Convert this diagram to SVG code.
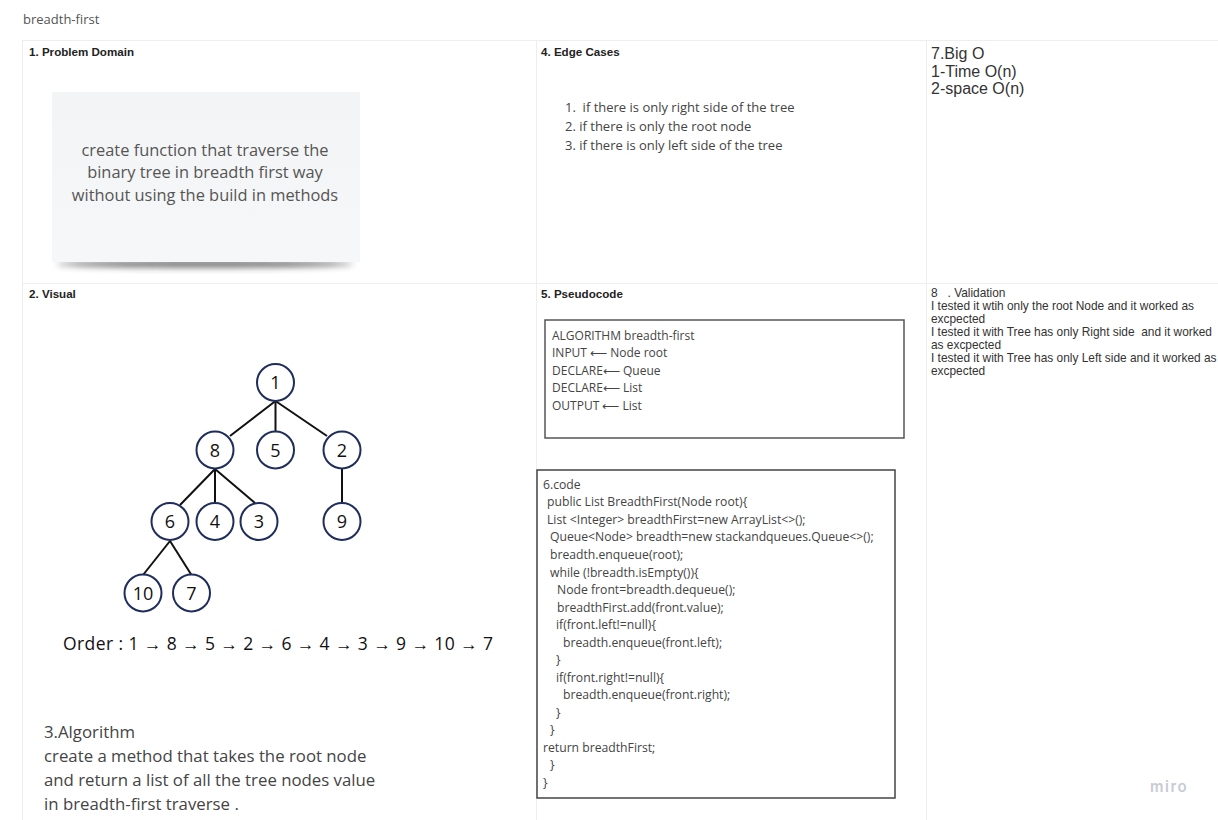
<svg xmlns="http://www.w3.org/2000/svg" width="1218" height="820" viewBox="0 0 1218 820">
<style>
.hdr{font-family:"Liberation Sans",Arial,sans-serif;font-size:11.6px;font-weight:bold;fill:#222}
.os{font-family:"Open Sans","Noto Sans",sans-serif}
.grid{stroke:#eeeeee;stroke-width:1;fill:none}
.node circle{fill:#fff;stroke:#1f2d5c;stroke-width:2}
.node text{font-family:"Open Sans","Noto Sans",sans-serif;font-size:18px;fill:#111;text-anchor:middle}
.edge{stroke:#111;stroke-width:2}
.code{font-family:"Open Sans","Noto Sans",sans-serif;font-size:12.2px;fill:#444}
.val{font-family:"Liberation Sans",Arial,sans-serif;font-size:11.9px;fill:#333}
</style>
<defs>
<filter id="blur" x="-20%" y="-200%" width="140%" height="500%"><feGaussianBlur stdDeviation="3"/></filter>
<linearGradient id="note" x1="0" y1="0" x2="0" y2="1"><stop offset="0" stop-color="#f3f4f5"/><stop offset="1" stop-color="#f6f7f8"/></linearGradient>
</defs>
<rect width="1218" height="820" fill="#fff"/>
<text class="os" x="23" y="24" font-size="13" fill="#555">breadth-first</text>
<g id="frame">
<rect class="grid" x="22.5" y="40.5" width="1200" height="790"/>
<line class="grid" x1="536.5" y1="40" x2="536.5" y2="820"/>
<line class="grid" x1="926.5" y1="40" x2="926.5" y2="820"/>
<line class="grid" x1="22" y1="283.5" x2="1218" y2="283.5"/>
</g>
<g id="problem-domain">
<text class="hdr" x="29" y="56">1. Problem Domain</text>
<ellipse cx="205" cy="264" rx="148" ry="3.5" fill="#333" opacity="0.7" filter="url(#blur)"/>
<rect x="52" y="92" width="308" height="170" fill="url(#note)"/>
<text class="os" font-size="16.4" fill="#555" text-anchor="middle"><tspan x="205" y="156">create function that traverse the</tspan><tspan x="205" y="178">binary tree in breadth first way</tspan><tspan x="205" y="201">without using the build in methods</tspan></text>
</g>
<g id="edge-cases">
<text class="hdr" x="541" y="56">4. Edge Cases</text>
<text class="os" font-size="13" fill="#444" xml:space="preserve"><tspan x="565" y="112">1.  if there is only right side of the tree</tspan><tspan x="565" y="131">2. if there is only the root node</tspan><tspan x="565" y="150">3. if there is only left side of the tree</tspan></text>
</g>
<g id="big-o">
<text font-family="Liberation Sans,Arial,sans-serif" font-size="16" fill="#333"><tspan x="931" y="59">7.Big O</tspan><tspan x="931" y="77">1-Time O(n)</tspan><tspan x="931" y="94">2-space O(n)</tspan></text>
</g>
<g id="visual">
<text class="hdr" x="29" y="298">2. Visual</text>
</g>
<g id="connectors">
<line class="edge" x1="275.5" y1="401" x2="230" y2="436"/>
<line class="edge" x1="275.5" y1="401" x2="275.5" y2="431"/>
<line class="edge" x1="275.5" y1="401" x2="327" y2="436"/>
<line class="edge" x1="215" y1="469" x2="180" y2="505"/>
<line class="edge" x1="215" y1="469" x2="215" y2="503"/>
<line class="edge" x1="215" y1="469" x2="255" y2="503"/>
<line class="edge" x1="342" y1="469" x2="342" y2="503"/>
<line class="edge" x1="170" y1="541" x2="143" y2="575"/>
<line class="edge" x1="170" y1="541" x2="191.5" y2="575"/>
</g>
<g id="n1" class="node"><circle cx="275.5" cy="382.5" r="18.5"/><text x="275.5" y="389">1</text></g>
<g id="n8" class="node"><circle cx="215" cy="450" r="18.5"/><text x="215" y="456.5">8</text></g>
<g id="n5" class="node"><circle cx="275.5" cy="450" r="18.5"/><text x="275.5" y="456.5">5</text></g>
<g id="n2" class="node"><circle cx="342" cy="450" r="18.5"/><text x="342" y="456.5">2</text></g>
<g id="n6" class="node"><circle cx="170" cy="521.5" r="18.5"/><text x="170" y="528">6</text></g>
<g id="n4" class="node"><circle cx="215" cy="521.5" r="18.5"/><text x="215" y="528">4</text></g>
<g id="n3" class="node"><circle cx="259" cy="521.5" r="18.5"/><text x="259" y="528">3</text></g>
<g id="n9" class="node"><circle cx="342" cy="521.5" r="18.5"/><text x="342" y="528">9</text></g>
<g id="n10" class="node"><circle cx="143" cy="593" r="18.5"/><text x="143" y="599.5">10</text></g>
<g id="n7" class="node"><circle cx="191.5" cy="593" r="18.5"/><text x="191.5" y="599.5">7</text></g>
<g id="order">
<text class="os" x="63" y="650" font-size="17.5" fill="#111" textLength="430" lengthAdjust="spacing">Order : 1 → 8 → 5 → 2 → 6 → 4 → 3 → 9 → 10 → 7</text>
</g>
<g id="algorithm">
<text class="os" font-size="16.8" fill="#444"><tspan x="44" y="738">3.Algorithm</tspan><tspan x="44" y="762">create a method that takes the root node</tspan><tspan x="44" y="786">and return a list of all the tree nodes value</tspan><tspan x="44" y="810">in breadth-first traverse .</tspan></text>
</g>
<g id="pseudocode">
<text class="hdr" x="541" y="298">5. Pseudocode</text>
<rect x="545" y="320" width="359" height="118" fill="#fff" stroke="#555" stroke-width="1.5"/>
<text class="os" font-size="12" fill="#444"><tspan x="552" y="340">ALGORITHM breadth-first</tspan><tspan x="552" y="357">INPUT ⟵ Node root</tspan><tspan x="552" y="375">DECLARE⟵ Queue</tspan><tspan x="552" y="392">DECLARE⟵ List</tspan><tspan x="552" y="410">OUTPUT ⟵ List</tspan></text>
</g>
<g id="code">
<rect x="537" y="470" width="358" height="328" fill="#fff" stroke="#444" stroke-width="1.5"/>
<text class="code">
<tspan x="543" y="489">6.code</tspan>
<tspan x="547" y="506">public List BreadthFirst(Node root){</tspan>
<tspan x="547" y="524">List &lt;Integer&gt; breadthFirst=new ArrayList&lt;&gt;();</tspan>
<tspan x="550" y="541">Queue&lt;Node&gt; breadth=new stackandqueues.Queue&lt;&gt;();</tspan>
<tspan x="550" y="559">breadth.enqueue(root);</tspan>
<tspan x="550" y="577">while (!breadth.isEmpty()){</tspan>
<tspan x="557" y="594">Node front=breadth.dequeue();</tspan>
<tspan x="557" y="612">breadthFirst.add(front.value);</tspan>
<tspan x="556" y="629">if(front.left!=null){</tspan>
<tspan x="563" y="647">breadth.enqueue(front.left);</tspan>
<tspan x="556" y="664">}</tspan>
<tspan x="556" y="682">if(front.right!=null){</tspan>
<tspan x="563" y="699">breadth.enqueue(front.right);</tspan>
<tspan x="556" y="717">}</tspan>
<tspan x="550" y="734">}</tspan>
<tspan x="543" y="752">return breadthFirst;</tspan>
<tspan x="550" y="769">}</tspan>
<tspan x="543" y="787">}</tspan>
</text>
</g>
<g id="validation">
<text class="val" xml:space="preserve"><tspan x="931" y="297">8   . Validation</tspan><tspan x="931" y="310">I tested it wtih only the root Node and it worked as</tspan><tspan x="931" y="323">excpected</tspan><tspan x="931" y="336">I tested it with Tree has only Right side  and it worked</tspan><tspan x="931" y="349">as excpected</tspan><tspan x="931" y="362">I tested it with Tree has only Left side and it worked as</tspan><tspan x="931" y="375">excpected</tspan></text>
</g>
<text x="1150" y="792" font-family="Inter,Roboto,sans-serif" font-size="15" font-weight="600" fill="#c9cad3" letter-spacing="1.5">miro</text>
</svg>
